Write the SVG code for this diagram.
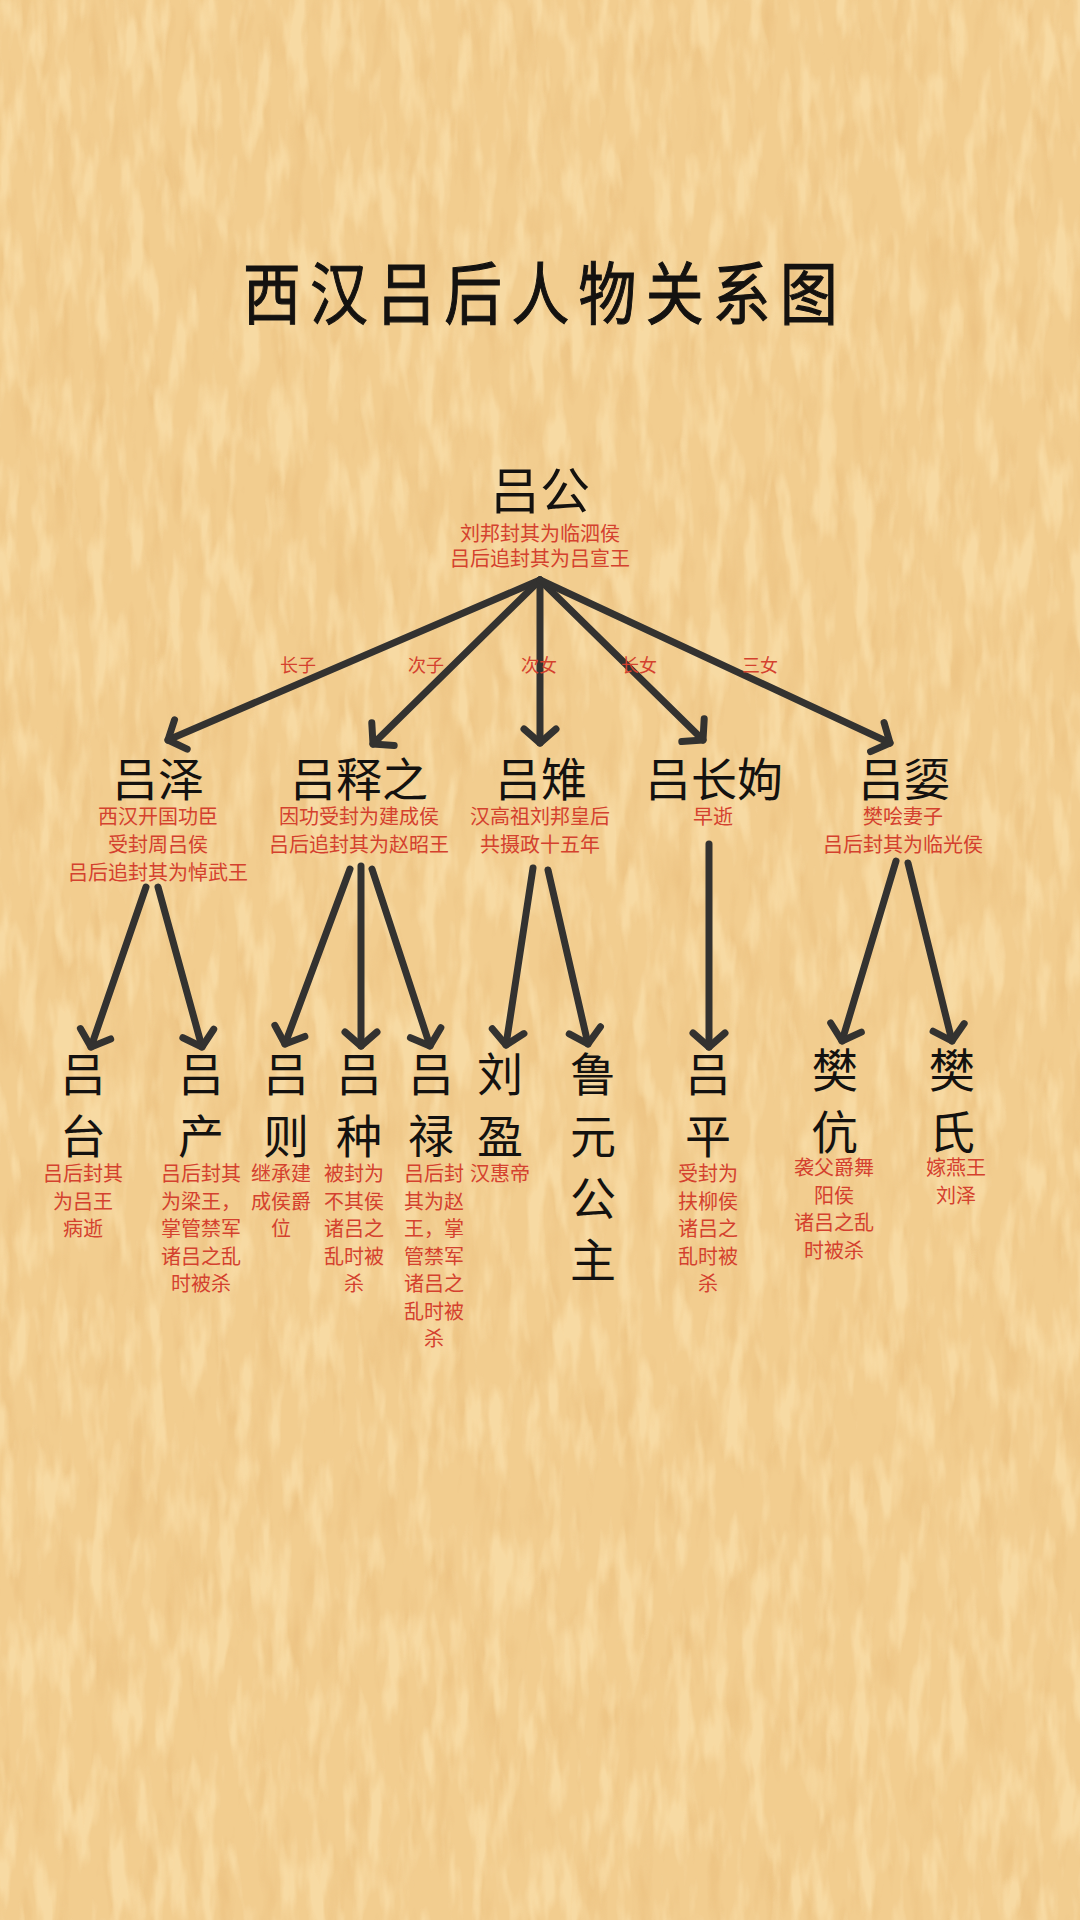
<svg xmlns="http://www.w3.org/2000/svg" width="1080" height="1920" viewBox="0 0 1080 1920">
<defs>
<style>
.title{font-family:"Noto Sans CJK SC","Noto Sans CJK TC",sans-serif;font-size:68px;font-weight:400;letter-spacing:11px;fill:#141210;stroke:#141210;stroke-width:1.1px;text-anchor:middle}
.root{font-family:"Noto Sans CJK SC",sans-serif;font-size:50px;fill:#141210;text-anchor:middle}
.name{font-family:"Noto Sans CJK SC",sans-serif;font-size:46px;fill:#141210;text-anchor:middle}
.desc{font-family:"Noto Sans CJK SC",sans-serif;font-size:20px;fill:#D4412E;text-anchor:middle}
.rel{font-family:"Noto Sans CJK SC",sans-serif;font-size:18px;fill:#D4412E;text-anchor:middle}
.edge{fill:none;stroke:#333230;stroke-width:7;stroke-linecap:round;marker-end:url(#ah)}
</style>
<marker id="ah" markerUnits="userSpaceOnUse" orient="auto" markerWidth="40" markerHeight="40" viewBox="-20 -20 40 40" refX="0" refY="0" overflow="visible">
<path d="M-14,-16 L0,0 L-14,16" fill="none" stroke="#333230" stroke-width="7" stroke-linecap="round" stroke-linejoin="round"/>
</marker>
<filter id="paper" filterUnits="userSpaceOnUse" x="0" y="0" width="1080" height="1920" color-interpolation-filters="sRGB">
<feTurbulence type="fractalNoise" baseFrequency="0.055 0.013" numOctaves="3" seed="7" result="n"/>
<feColorMatrix in="n" type="matrix" values="0 0 0 0 0.97  0 0 0 0 0.855  0 0 0 0 0.64  4 0 0 0 -1.9" result="light"/>
<feColorMatrix in="n" type="matrix" values="0 0 0 0 0.93  0 0 0 0 0.77  0 0 0 0 0.52  0 3 0 0 -1.6" result="dark"/>
<feMerge><feMergeNode in="dark"/><feMergeNode in="light"/></feMerge>
</filter>
</defs>
<rect width="1080" height="1920" fill="#F2CD8F"/>
<rect width="1080" height="1920" filter="url(#paper)"/>

<text class="title" transform="translate(545,319) scale(0.85,1)" x="0" y="0">西汉吕后人物关系图</text>

<g id="connectors">
<path class="edge" d="M540,580 L168,740"/>
<path class="edge" d="M540,580 L373,744"/>
<path class="edge" d="M540,580 L540,743"/>
<path class="edge" d="M540,580 L703,740"/>
<path class="edge" d="M540,580 L890,743"/>
<path class="edge" d="M146,887 L91,1047"/>
<path class="edge" d="M158,887 L202,1047"/>
<path class="edge" d="M350,869 L285,1044"/>
<path class="edge" d="M361,866 L361,1046"/>
<path class="edge" d="M372,869 L430,1046"/>
<path class="edge" d="M533,868 L506,1045"/>
<path class="edge" d="M548,870 L588,1044"/>
<path class="edge" d="M709,844 L709,1047"/>
<path class="edge" d="M896,861 L842,1041"/>
<path class="edge" d="M908,863 L952,1041"/>
<text class="rel" x="298" y="672">长子</text>
<text class="rel" x="426" y="672">次子</text>
<text class="rel" x="539" y="672">次女</text>
<text class="rel" x="639" y="672">长女</text>
<text class="rel" x="760" y="672">三女</text>
</g>

<g id="n-lvgong">
<text class="root" x="540" y="509">吕公</text>
<text class="desc" x="540" y="541">刘邦封其为临泗侯</text>
<text class="desc" x="540" y="566">吕后追封其为吕宣王</text>
</g>

<g id="n-lvze">
<text class="name" x="158" y="796">吕泽</text>
<text class="desc"><tspan x="158" y="824">西汉开国功臣</tspan><tspan x="158" y="852">受封周吕侯</tspan><tspan x="158" y="880">吕后追封其为悼武王</tspan></text>
</g>
<g id="n-lvshizhi">
<text class="name" x="359" y="796">吕释之</text>
<text class="desc"><tspan x="359" y="824">因功受封为建成侯</tspan><tspan x="359" y="852">吕后追封其为赵昭王</tspan></text>
</g>
<g id="n-lvzhi">
<text class="name" x="541" y="796">吕雉</text>
<text class="desc"><tspan x="540" y="824">汉高祖刘邦皇后</tspan><tspan x="540" y="852">共摄政十五年</tspan></text>
</g>
<g id="n-lvchangxu">
<text class="name" x="714" y="796">吕长姁</text>
<text class="desc" x="713" y="824">早逝</text>
</g>
<g id="n-lvxu">
<text class="name" x="904" y="796">吕媭</text>
<text class="desc"><tspan x="903" y="824">樊哙妻子</tspan><tspan x="903" y="852">吕后封其为临光侯</tspan></text>
</g>

<g id="n-lvtai">
<text class="name"><tspan x="83" y="1091">吕</tspan><tspan x="83" y="1153">台</tspan></text>
<text class="desc"><tspan x="83" y="1181">吕后封其</tspan><tspan x="83" y="1208.5">为吕王</tspan><tspan x="83" y="1236">病逝</tspan></text>
</g>
<g id="n-lvchan">
<text class="name"><tspan x="201" y="1091">吕</tspan><tspan x="201" y="1153">产</tspan></text>
<text class="desc"><tspan x="201" y="1181">吕后封其</tspan><tspan x="201" y="1208.5">为梁王，</tspan><tspan x="201" y="1236">掌管禁军</tspan><tspan x="201" y="1263.5">诸吕之乱</tspan><tspan x="201" y="1291">时被杀</tspan></text>
</g>
<g id="n-lvze2">
<text class="name"><tspan x="286" y="1091">吕</tspan><tspan x="286" y="1153">则</tspan></text>
<text class="desc"><tspan x="281" y="1181">继承建</tspan><tspan x="281" y="1208.5">成侯爵</tspan><tspan x="281" y="1236">位</tspan></text>
</g>
<g id="n-lvzhong">
<text class="name"><tspan x="359" y="1091">吕</tspan><tspan x="359" y="1153">种</tspan></text>
<text class="desc"><tspan x="354" y="1181">被封为</tspan><tspan x="354" y="1208.5">不其侯</tspan><tspan x="354" y="1236">诸吕之</tspan><tspan x="354" y="1263.5">乱时被</tspan><tspan x="354" y="1291">杀</tspan></text>
</g>
<g id="n-lvlu">
<text class="name"><tspan x="431" y="1091">吕</tspan><tspan x="431" y="1153">禄</tspan></text>
<text class="desc"><tspan x="434" y="1181">吕后封</tspan><tspan x="434" y="1208.5">其为赵</tspan><tspan x="434" y="1236">王，掌</tspan><tspan x="434" y="1263.5">管禁军</tspan><tspan x="434" y="1291">诸吕之</tspan><tspan x="434" y="1318.5">乱时被</tspan><tspan x="434" y="1346">杀</tspan></text>
</g>
<g id="n-liuying">
<text class="name"><tspan x="500" y="1091">刘</tspan><tspan x="500" y="1153">盈</tspan></text>
<text class="desc" x="500" y="1181">汉惠帝</text>
</g>
<g id="n-luyuan">
<text class="name"><tspan x="593" y="1091">鲁</tspan><tspan x="593" y="1153">元</tspan><tspan x="593" y="1215">公</tspan><tspan x="593" y="1277">主</tspan></text>
</g>
<g id="n-lvping">
<text class="name"><tspan x="708" y="1091">吕</tspan><tspan x="708" y="1153">平</tspan></text>
<text class="desc"><tspan x="708" y="1181">受封为</tspan><tspan x="708" y="1208.5">扶柳侯</tspan><tspan x="708" y="1236">诸吕之</tspan><tspan x="708" y="1263.5">乱时被</tspan><tspan x="708" y="1291">杀</tspan></text>
</g>
<g id="n-fankang">
<text class="name"><tspan x="835" y="1087">樊</tspan><tspan x="835" y="1149">伉</tspan></text>
<text class="desc"><tspan x="834" y="1175">袭父爵舞</tspan><tspan x="834" y="1202.5">阳侯</tspan><tspan x="834" y="1230">诸吕之乱</tspan><tspan x="834" y="1257.5">时被杀</tspan></text>
</g>
<g id="n-fanshi">
<text class="name"><tspan x="952" y="1087">樊</tspan><tspan x="952" y="1149">氏</tspan></text>
<text class="desc"><tspan x="956" y="1175">嫁燕王</tspan><tspan x="956" y="1202.5">刘泽</tspan></text>
</g>
</svg>
